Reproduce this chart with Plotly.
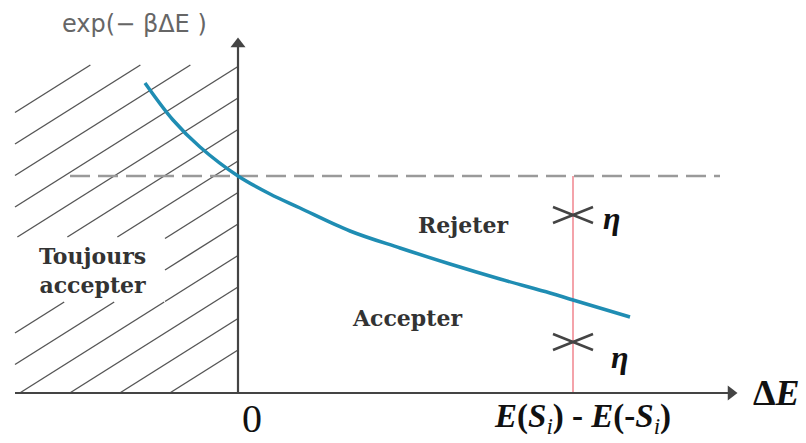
import plotly.graph_objects as go

# Acceptance curve exp(-beta*dE), read as (dE, value) pairs
curve_x = [-0.93, -0.65, -0.38, 0.0, 0.32, 0.62, 1.12, 1.62, 2.12, 2.62, 3.12, 3.35, 3.92]
curve_y = [3.10, 2.73, 2.46, 2.17, 1.99, 1.85, 1.62, 1.45, 1.29, 1.14, 1.00, 0.93, 0.76]

# Reference level exp(0) = 1 and the energy difference being tested
ref_level = 2.17
delta_e = 3.35
eta_values = [1.78, 0.51]          # two random draws of eta on the test line

# Hatched "always accept" zone (dE < 0)
zone_x = [-2.23, 0.0]
zone_y = [0.0, 3.28]
label_box_x = [-2.23, -0.73]
label_box_y = [0.91, 1.56]
hatch_slope = 0.63
hatch_offsets = [0.43 + 0.315 * k for k in range(13)]

# Axis extents
x_axis = [-2.23, 4.99]
y_axis = [0.0, 3.55]

INK = "#444444"
TEXT = "#333333"
SERIF = "DejaVu Serif"


def hatch_segments():
    xs, ys = [], []
    m = hatch_slope
    for c in hatch_offsets:
        lo = max(zone_x[0], (zone_y[0] - c) / m)
        hi = min(zone_x[1], (zone_y[1] - c) / m)
        if lo >= hi:
            continue
        # cut out the part that crosses the label box
        blo = max(label_box_x[0], (label_box_y[0] - c) / m)
        bhi = min(label_box_x[1], (label_box_y[1] - c) / m)
        pieces = []
        if blo < bhi and blo < hi and bhi > lo:
            if lo < blo:
                pieces.append((lo, blo))
            if bhi < hi:
                pieces.append((bhi, hi))
        else:
            pieces.append((lo, hi))
        for a, b in pieces:
            xs += [a, b, None]
            ys += [c + m * a, c + m * b, None]
    return xs, ys


def cross_segments(cx, cy, hw=0.20, hh=0.08):
    return ([cx - hw, cx + hw, None, cx - hw, cx + hw, None],
            [cy - hh, cy + hh, None, cy + hh, cy - hh, None])


fig = go.Figure()

hx, hy = hatch_segments()
fig.add_trace(go.Scatter(x=hx, y=hy, mode="lines",
                         line=dict(color="#555555", width=1.4), hoverinfo="skip"))

# dashed reference level
fig.add_trace(go.Scatter(x=[-1.68, 4.82], y=[ref_level, ref_level], mode="lines",
                         line=dict(color="#9a9a9a", width=2.5, dash="20px,8px"),
                         hoverinfo="skip"))

# vertical test line at E(Si) - E(-Si)
fig.add_trace(go.Scatter(x=[delta_e, delta_e], y=[0, ref_level], mode="lines",
                         line=dict(color="#f4a3aa", width=2), hoverinfo="skip"))

# axes drawn as lines with triangular heads
fig.add_trace(go.Scatter(x=[x_axis[0], x_axis[1] - 0.06], y=[0, 0], mode="lines",
                         line=dict(color=INK, width=2.2), hoverinfo="skip"))
fig.add_trace(go.Scatter(x=[0, 0], y=[y_axis[0], y_axis[1] - 0.06], mode="lines",
                         line=dict(color=INK, width=2.2), hoverinfo="skip"))
fig.add_trace(go.Scatter(x=[x_axis[1] - 0.06], y=[0], mode="markers",
                         marker=dict(symbol="triangle-right", size=13, color=INK),
                         hoverinfo="skip"))
fig.add_trace(go.Scatter(x=[0], y=[y_axis[1] - 0.06], mode="markers",
                         marker=dict(symbol="triangle-up", size=13, color=INK),
                         hoverinfo="skip"))

# acceptance probability curve
fig.add_trace(go.Scatter(x=curve_x, y=curve_y, mode="lines",
                         line=dict(color="#1f8db3", width=3.5, shape="spline"),
                         hoverinfo="skip"))

# eta draws as flattened crosses
for ev in eta_values:
    cx, cy = cross_segments(delta_e, ev)
    fig.add_trace(go.Scatter(x=cx, y=cy, mode="lines",
                             line=dict(color=INK, width=2.5), hoverinfo="skip"))

annotations = [
    dict(x=-1.04, y=3.69, text="exp(− βΔE )", showarrow=False,
         font=dict(family="DejaVu Sans", size=24, color="#666666")),
    dict(x=2.25, y=1.68, text="<b>Rejeter</b>", showarrow=False,
         font=dict(family=SERIF, size=22, color=TEXT)),
    dict(x=1.69, y=0.75, text="<b>Accepter</b>", showarrow=False,
         font=dict(family=SERIF, size=22, color=TEXT)),
    dict(x=-1.46, y=1.23, text="<b>Toujours<br>accepter</b>", showarrow=False,
         font=dict(family=SERIF, size=22, color=TEXT)),
    dict(x=0.14, y=-0.25, text="0", showarrow=False,
         font=dict(family="Liberation Serif", size=40, color="#111111")),
    dict(x=3.44, y=-0.25,
         text="<b><i>E</i>(<i>S</i></b><sub><i>i</i></sub><b>) - <i>E</i>(-<i>S</i></b><sub><i>i</i></sub><b>)</b>",
         showarrow=False, font=dict(family="Liberation Serif", size=33, color="#111111")),
    dict(x=5.13, y=0.0, xanchor="left", text="<b>Δ<i>E</i></b>", showarrow=False,
         font=dict(family="Liberation Serif", size=36, color="#111111")),
]
for ev, dx, dy in zip(eta_values, [0.39, 0.47], [-0.03, -0.15]):
    annotations.append(dict(x=delta_e + dx, y=ev + dy,
                            text="<b><i>η</i></b>", showarrow=False,
                            font=dict(family="Liberation Serif", size=32, color="#111111")))

fig.update_layout(
    width=806, height=443,
    margin=dict(l=0, r=0, t=0, b=0),
    paper_bgcolor="white", plot_bgcolor="white",
    showlegend=False,
    xaxis=dict(range=[-2.38, 5.68], visible=False, fixedrange=True),
    yaxis=dict(range=[-0.50, 3.93], visible=False, fixedrange=True),
    annotations=annotations,
)

fig.write_html("out.html")
